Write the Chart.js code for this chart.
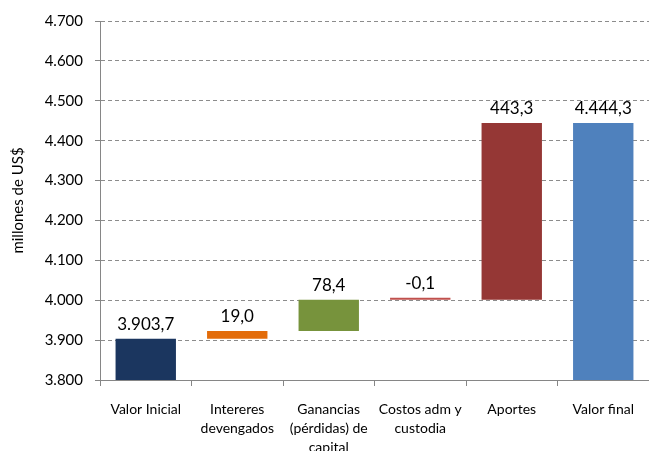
<!DOCTYPE html>
<html>
<head>
<meta charset="utf-8">
<script src="https://cdn.jsdelivr.net/npm/chart.js@4"></script>
<style>
  html, body { margin: 0; padding: 0; background: #fff; }
  #wrap { width: 649px; height: 451px; }
</style>
</head>
<body>
<div id="wrap"><canvas id="myChart"></canvas></div>
<script>
// categorías y valores (millones de US$)
var categorias = [
  ['Valor Inicial'],
  ['Intereres', 'devengados'],
  ['Ganancias', '(pérdidas) de', 'capital'],
  ['Costos adm y', 'custodia'],
  ['Aportes'],
  ['Valor final']
];
var valorInicial = 3903.7;
var variaciones = [19.0, 78.4, -0.1, 443.3];
var valorFinal = 4444.3;
var colores = ['#1b365f', '#e36c0a', '#77933c', '#c0504d', '#953735', '#4f81bd'];
var ejeMin = 3800, ejeMax = 4700, ejePaso = 100;

// formato 4.444,3
function fmt(v, dec) {
  var s = Math.abs(v).toFixed(dec);
  var partes = s.split('.');
  var ent = partes[0].replace(/\B(?=(\d{3})+(?!\d))/g, '.');
  return (v < 0 ? '-' : '') + ent + (dec > 0 ? ',' + partes[1] : '');
}

// barras flotantes de la cascada
var barras = [[ejeMin, valorInicial]];
var etiquetas = [fmt(valorInicial, 1)];
var acum = valorInicial;
variaciones.forEach(function (d) {
  barras.push([acum, acum + d]);
  etiquetas.push(fmt(d, 1));
  acum += d;
});
barras.push([ejeMin, valorFinal]);
etiquetas.push(fmt(valorFinal, 1));

var etiquetasPlugin = {
  id: 'etiquetas',
  afterDatasetsDraw: function (chart) {
    var ctx = chart.ctx;
    var meta = chart.getDatasetMeta(0);
    ctx.save();
    ctx.font = '17px Lato';
    ctx.fillStyle = '#000';
    ctx.textAlign = 'center';
    ctx.textBaseline = 'bottom';
    meta.data.forEach(function (el, i) {
      var top = Math.min(el.y, el.base);
      ctx.fillText(etiquetas[i], el.x, top - 6);
    });
    ctx.restore();
  }
};

var ctx = document.getElementById('myChart').getContext('2d');
var myChart = new Chart(ctx, {
  type: 'bar',
  data: {
    labels: categorias,
    datasets: [{
      data: barras,
      backgroundColor: colores,
      borderWidth: 0,
      minBarLength: 2,
      categoryPercentage: 0.66,
      barPercentage: 1
    }]
  },
  options: {
    responsive: true,
    maintainAspectRatio: false,
    animation: false,
    layout: { padding: { top: 12, right: 0, left: 0, bottom: 0 } },
    plugins: {
      legend: { display: false },
      tooltip: { enabled: false }
    },
    scales: {
      x: {
        grid: {
          offset: true,
          drawOnChartArea: false,
          drawTicks: true,
          tickLength: 6,
          color: '#868686'
        },
        border: { color: '#868686', width: 1 },
        ticks: {
          color: '#000',
          font: { family: 'Lato', size: 14, lineHeight: 1.35 },
          maxRotation: 0,
          autoSkip: false,
          padding: 14
        },
        afterFit: function (s) { s.height = 71; }
      },
      y: {
        min: ejeMin,
        max: ejeMax,
        ticks: {
          stepSize: ejePaso,
          color: '#000',
          font: { family: 'Lato', size: 15 },
          padding: 12,
          callback: function (v) { return fmt(v, 0); }
        },
        grid: {
          color: '#8c8c8c',
          tickLength: 5,
          tickColor: '#868686'
        },
        border: { color: '#868686', width: 1, dash: [4, 3] },
        title: {
          display: true,
          text: 'millones de US$',
          color: '#000',
          font: { family: 'Lato', size: 15 },
          padding: { top: 9, bottom: 0 }
        },
        afterFit: function (s) { s.width = 100; }
      }
    }
  },
  plugins: [etiquetasPlugin]
});
</script>
</body>
</html>
